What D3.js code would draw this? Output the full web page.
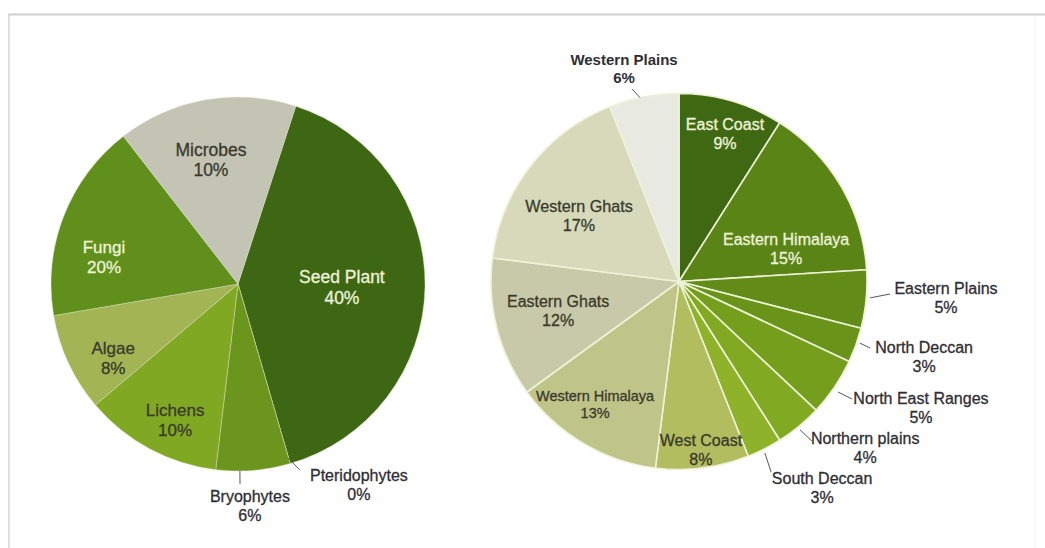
<!DOCTYPE html>
<html><head><meta charset="utf-8">
<script src="https://cdn.jsdelivr.net/npm/d3@7"></script>
<style>
body{margin:0;background:#fff}
svg{display:block}
text{font-family:"Liberation Sans",Arial,Helvetica,sans-serif}
</style>
</head><body>
<svg id="chart" width="1045" height="548"></svg>
<script>
// ---------- data ----------
const leftCategories = ["Seed Plant","Pteridophytes","Bryophytes","Lichens","Algae","Fungi","Microbes"];
const leftValues     = [40.5, 0, 6.4, 11.9, 8.5, 17.2, 15.5];   // slice sizes as drawn
const leftLabels     = ["40%","0%","6%","10%","8%","20%","10%"]; // printed labels

const rightCategories = ["East Coast","Eastern Himalaya","Eastern Plains","North Deccan","North East Ranges","Northern plains","South Deccan","West Coast","Western Himalaya","Eastern Ghats","Western Ghats","Western Plains"];
const rightValues     = [9, 15, 5, 3, 5, 4, 3, 8, 13, 12, 17, 6];
const rightLabels     = ["9%","15%","5%","3%","5%","4%","3%","8%","13%","12%","17%","6%"];

// ---------- styles ----------
const leftColors  = ["#3e6714","#5a8a1a","#6c951e","#80a823","#a2b453","#60901b","#c3c4b4"];
const rightColors = ["#3e6812","#5b8417","#628c17","#6a9419","#759e1c","#81a921","#8eb229","#b1bd5f","#bfc488","#c8c9a9","#d6dabb","#e8eae2"];

// label placement: [angle nudge (deg), radius factor, colour kind, font size]  kind: w = light, d = dark, o = outside, ob = outside bold
const leftLabelPos = [[0.8,0.556,"w",17.5],[-14.9,1.252,"o",16],[1.6,1.186,"o",16],[-3.4,0.80,"d",17],[-5.5,0.775,"d",17],[-9.9,0.731,"w",17],[-2.4,0.68,"d",17.5]];
// leader lines: [startNudge, startR, endNudge, endR] or null
const leftLeaders = [null,[0.2,0.968,-2.2,1.048],[4.1,1.0,4.1,1.07],null,null,null,null];

const rightLabelPos = [[1.1,0.822,"w",16],[13.5,0.596,"w",16],[-1.9,1.423,"o",16],[-2.7,1.364,"o",16],[-6.7,1.451,"o",16],[-8.7,1.326,"o",16],[-7.8,1.334,"o",16],[-0.2,0.904,"d",16],[3.7,0.792,"d",14.5],[0.7,0.662,"d",16],[-4.4,0.637,"d",16.2],[-3.7,1.168,"ob",15]];
const rightLeaders = [null,null,[-0.5,1.02,-2.0,1.124],[-1.0,1.016,-0.6,1.076],[0.6,1.03,0.0,1.112],[0.4,1.019,-0.2,1.105],[0.4,1.02,1.2,1.125],null,null,null,null,[-1.2,1.0,-2.9,1.055]];

const textColors = {w:"#eef3d9", d:"#3a3a2c", o:"#2e2e36", ob:"#2e2e36"};

const svg = d3.select("#chart");
const rad = a => a * Math.PI / 180;
const polar = (a, r) => [r * Math.sin(a), -r * Math.cos(a)];

// frame
svg.append("line").attr("x1",8).attr("x2",1045).attr("y1",14.5).attr("y2",14.5).attr("stroke","#cfcfcf").attr("stroke-width",2);
svg.append("line").attr("x1",9).attr("x2",9).attr("y1",14).attr("y2",548).attr("stroke","#d6d6d6").attr("stroke-width",1.5);
svg.append("line").attr("x1",1035).attr("x2",1035).attr("y1",15).attr("y2",548).attr("stroke","#f0f0f0").attr("stroke-width",1);

function drawPie(cfg) {
  const g = svg.append("g").attr("transform", `translate(${cfg.cx},${cfg.cy})`);
  const pie = d3.pie().sort(null).value(d => d)
    .startAngle(rad(cfg.start)).endAngle(rad(cfg.start) + 2 * Math.PI);
  const arcs = pie(cfg.values);
  const arc = d3.arc().innerRadius(0).outerRadius(cfg.r);
  g.selectAll("path.slice").data(arcs).join("path")
    .attr("class","slice")
    .attr("d", arc)
    .attr("fill", (d,i) => cfg.colors[i])
    .attr("stroke", cfg.stroke)
    .attr("stroke-width", cfg.strokeWidth)
    .attr("stroke-linejoin","round");

  arcs.forEach((d, i) => {
    const mid = (d.startAngle + d.endAngle) / 2;
    const lp = cfg.labelPos[i];
    const [x, y] = polar(mid + rad(lp[0]), cfg.r * lp[1]);
    const kind = lp[2];
    const fs = lp[3];
    const lh = fs * 1.18;
    const t = g.append("text")
      .attr("text-anchor","middle")
      .attr("font-size", fs)
      .attr("font-weight", kind === "ob" ? "bold" : "normal")
      .attr("fill", textColors[kind])
      .attr("stroke", textColors[kind])
      .attr("stroke-width", kind === "ob" ? 0 : 0.3);
    t.append("tspan").attr("x", x).attr("y", y - lh/2 + fs*0.36).text(cfg.categories[i]);
    t.append("tspan").attr("x", x).attr("y", y + lh/2 + fs*0.36).text(cfg.labels[i]);

    const ld = cfg.leaders[i];
    if (ld) {
      const p1 = polar(mid + rad(ld[0]), cfg.r * ld[1]);
      const p2 = polar(mid + rad(ld[2]), cfg.r * ld[3]);
      g.append("line").attr("x1",p1[0]).attr("y1",p1[1]).attr("x2",p2[0]).attr("y2",p2[1])
        .attr("stroke","#55555f").attr("stroke-width",1);
    }
  });
}

drawPie({cx:238, cy:284, r:187, start:18, values:leftValues, categories:leftCategories, labels:leftLabels,
  colors:leftColors, labelPos:leftLabelPos, leaders:leftLeaders, stroke:"#dfe6c8", strokeWidth:0.4});

drawPie({cx:679, cy:281.5, r:188, start:0, values:rightValues, categories:rightCategories, labels:rightLabels,
  colors:rightColors, labelPos:rightLabelPos, leaders:rightLeaders, stroke:"#eef2d6", strokeWidth:1.6});
</script>
</body></html>
